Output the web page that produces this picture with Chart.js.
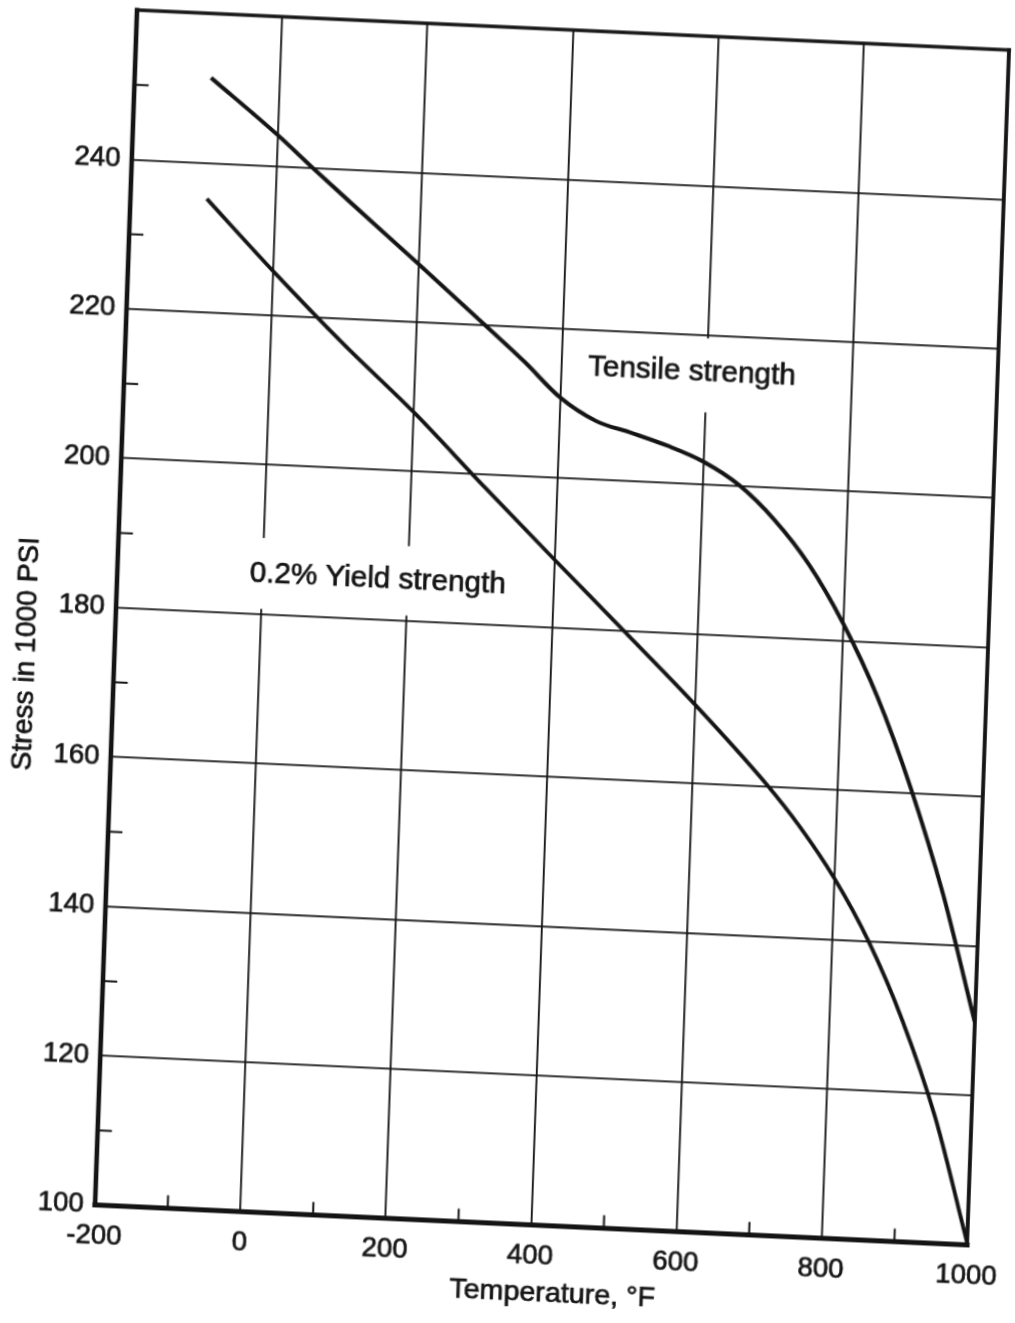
<!DOCTYPE html>
<html>
<head>
<meta charset="utf-8">
<title>Stress vs temperature</title>
<script src="https://cdn.jsdelivr.net/npm/chart.js@4.4.1/dist/chart.umd.min.js"></script>
<style>
  html, body { margin: 0; padding: 0; background: #fff; overflow: hidden; }
  body { width: 1015px; height: 1323px; position: relative; }
  #chart { position: absolute; left: 0; top: 0; transform-origin: 0 0; }
</style>
</head>
<body>
<canvas id="chart" width="1100" height="1400"></canvas>
<script>
// values (temperature in F, stress in 1000 psi)
const tensileTemp   = [-95, 0, 50, 100, 200, 290, 350, 400, 450, 500, 550, 600, 650, 700, 750, 800, 850, 900, 950, 1000];
const tensileStress = [251.4, 244.1, 239.9, 235.8, 227.7, 220.3, 215.3, 210.8, 207.9, 206.5, 205.0, 203.1, 200.2, 195.8, 190.0, 182.3, 172.8, 160.9, 146.8, 129.8];

const yieldTemp   = [-95, 0, 100, 200, 300, 400, 500, 600, 700, 750, 800, 850, 900, 950, 1000];
const yieldStress = [235.2, 225.9, 216.6, 207.9, 198.4, 189.1, 179.9, 170.6, 160.6, 154.9, 148.2, 140.0, 129.7, 116.9, 100.3];

const xTickValues = [-200, 0, 200, 400, 600, 800, 1000];
const xTickLabels = ['-200', '0', '200', '400', '600', '800', '1000'];
const yTickValues = [100, 120, 140, 160, 180, 200, 220, 240];
const yTickLabels = ['100', '120', '140', '160', '180', '200', '220', '240'];
const xMinorTicks = [-100, 100, 300, 500, 700, 900];
const yMinorTicks = [110, 130, 150, 170, 190, 210, 230, 250];

const xTitle = 'Temperature, °F';
const yTitle = 'Stress in 1000 PSI';

// curve captions, anchored in data units (left edge, vertical middle)
const captions = [
  { text: 'Tensile strength', t: 437, s: 215 },
  { text: '0.2% Yield strength', t: -18, s: 185.4 }
];
// grid lines are broken where the captions sit: [temperature, from stress, to stress]
const gridGaps = [[0, 180.7, 190.2], [200, 180.7, 190], [600, 209.7, 219.6]];

const INK = '#141414';
const SANS = "'Liberation Sans', Arial, sans-serif";

const paperPlugin = {
  id: 'paper',
  beforeDatasetsDraw(chart) {
    const { ctx, scales: { x, y } } = chart;
    ctx.save();
    ctx.fillStyle = '#fff';
    gridGaps.forEach(([t, s0, s1]) => {
      const px = x.getPixelForValue(t);
      const top = y.getPixelForValue(s1), bot = y.getPixelForValue(s0);
      ctx.fillRect(px - 3, top, 6, bot - top);
    });
    ctx.restore();
  },
  afterDatasetsDraw(chart) {
    const { ctx, chartArea: a, scales: { x, y } } = chart;
    const W = a.right - a.left, H = a.bottom - a.top;
    const seg = (x0, y0, x1, y1, w) => {
      ctx.lineWidth = w;
      ctx.beginPath(); ctx.moveTo(x0, y0); ctx.lineTo(x1, y1); ctx.stroke();
    };
    const text = (str, px, py) => {
      ctx.fillText(str, px, py);
      ctx.strokeText(str, px, py);
    };
    ctx.save();
    ctx.strokeStyle = INK;
    ctx.lineCap = 'square';
    seg(a.left, a.top, a.right, a.top, 3.5);
    seg(a.right, a.top, a.right, a.bottom, 3.8);
    seg(a.left, a.top, a.left, a.bottom, 4.5);
    seg(a.left, a.bottom, a.right, a.bottom, 5);
    ctx.lineCap = 'butt';
    xMinorTicks.forEach(t => {
      const px = x.getPixelForValue(t);
      seg(px, a.bottom, px, a.bottom - 13, 2);
    });
    yMinorTicks.forEach(s => {
      const py = y.getPixelForValue(s);
      seg(a.left, py, a.left + 14, py, 2);
    });

    ctx.fillStyle = INK;
    ctx.lineWidth = 0.7;
    ctx.textBaseline = 'middle';
    ctx.textAlign = 'left';
    ctx.font = '29px ' + SANS;
    captions.forEach(c => text(c.text, x.getPixelForValue(c.t), y.getPixelForValue(c.s)));

    ctx.textAlign = 'center';
    ctx.font = '28px ' + SANS;
    text(xTitle, a.left + 0.527 * W, a.bottom + 0.057 * H);
    ctx.translate(a.left - 0.1 * W, a.bottom - 0.458 * H);
    ctx.rotate(-Math.PI / 2);
    text(yTitle, 0, 0);
    ctx.restore();
  }
};

const tickFont = { family: SANS, size: 27 };

const canvas = document.getElementById('chart');
const chart = new Chart(canvas, {
  type: 'line',
  data: {
    datasets: [
      {
        label: 'Tensile strength',
        data: tensileTemp.map((t, i) => ({ x: t, y: tensileStress[i] })),
        borderColor: INK,
        borderWidth: 4,
        cubicInterpolationMode: 'monotone',
        pointRadius: 0,
        fill: false
      },
      {
        label: '0.2% Yield strength',
        data: yieldTemp.map((t, i) => ({ x: t, y: yieldStress[i] })),
        borderColor: INK,
        borderWidth: 3.8,
        cubicInterpolationMode: 'monotone',
        pointRadius: 0,
        fill: false
      }
    ]
  },
  options: {
    responsive: false,
    animation: false,
    devicePixelRatio: 1,
    layout: { padding: { left: 100, right: 80, top: 40, bottom: 110 } },
    plugins: { legend: { display: false }, tooltip: { enabled: false } },
    scales: {
      x: {
        type: 'linear',
        min: -200,
        max: 1000,
        afterBuildTicks: s => { s.ticks = xTickValues.map(v => ({ value: v })); },
        ticks: {
          autoSkip: false,
          maxRotation: 0,
          padding: 15,
          color: INK,
          textStrokeColor: INK,
          textStrokeWidth: 0.7,
          font: tickFont,
          callback: v => xTickLabels[xTickValues.indexOf(v)] ?? ''
        },
        grid: { color: INK, lineWidth: 1.8, drawTicks: false },
        border: { display: false }
      },
      y: {
        type: 'linear',
        min: 100,
        max: 260,
        afterBuildTicks: s => { s.ticks = yTickValues.map(v => ({ value: v })); },
        ticks: {
          autoSkip: false,
          padding: 11,
          color: INK,
          textStrokeColor: INK,
          textStrokeWidth: 0.7,
          font: tickFont,
          callback: v => yTickLabels[yTickValues.indexOf(v)] ?? ''
        },
        grid: { color: INK, lineWidth: 1.8, drawTicks: false },
        border: { display: false }
      }
    }
  },
  plugins: [paperPlugin]
});

// the scan is slightly skewed: map the plot frame onto its corners in the photo
const area = chart.chartArea;
const W = area.right - area.left, H = area.bottom - area.top;
const ma = 872 / W, mb = 40 / W, mc = -42 / H, md = 1195 / H;
const me = 95 - ma * area.left - mc * area.bottom;
const mf = 1205 - mb * area.left - md * area.bottom;
canvas.style.transform = `matrix(${ma},${mb},${mc},${md},${me},${mf})`;
</script>
</body>
</html>
